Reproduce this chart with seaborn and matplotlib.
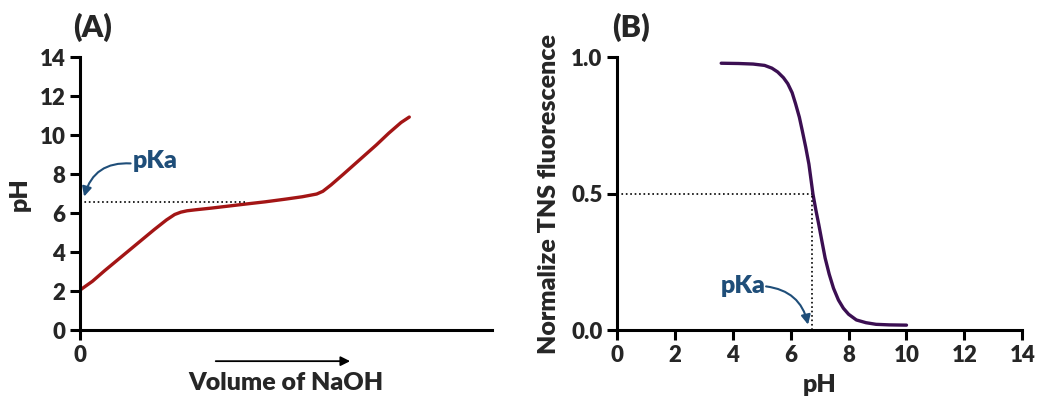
import matplotlib
matplotlib.use("Agg")
import matplotlib.pyplot as plt
import seaborn as sns
import pandas as pd

# Panel A: titration curve (arbitrary volume units)
vol_naoh = [0, 3, 6, 10, 14, 18, 21, 23, 24.5, 26, 28, 32, 36, 40, 45, 50, 54, 56, 57.5, 59, 61, 64, 68, 72, 75, 78, 80]
ph_titr = [2.05, 2.5, 3.05, 3.75, 4.45, 5.15, 5.65, 5.93, 6.05, 6.12, 6.17, 6.26, 6.36, 6.46, 6.58, 6.72, 6.84, 6.92, 6.98, 7.12, 7.45, 8.0, 8.75, 9.5, 10.1, 10.65, 10.93]
pka_a = 6.55
pka_a_vol = 40

# Panel B: TNS fluorescence vs pH
ph_tns = [3.6, 4.2, 4.7, 5.1, 5.35, 5.55, 5.75, 5.9, 6.05, 6.17, 6.3, 6.4, 6.52, 6.63, 6.77, 6.87,
          6.97, 7.08, 7.19, 7.33, 7.48, 7.65, 7.82, 8.0, 8.27, 8.6, 8.95, 9.4, 10.0]
fluor = [0.978, 0.977, 0.975, 0.970, 0.96, 0.946, 0.925, 0.903, 0.87, 0.829, 0.78, 0.731, 0.67, 0.608, 0.498, 0.44,
         0.387, 0.325, 0.264, 0.205, 0.153, 0.11, 0.080, 0.058, 0.037, 0.027, 0.021, 0.019, 0.018]
pka_b = 6.75

yticks_a = [0, 2, 4, 6, 8, 10, 12, 14]
xticks_b = [0, 2, 4, 6, 8, 10, 12, 14]
yticks_b = [0.0, 0.5, 1.0]

sns.set_style("ticks")
plt.rcParams['font.family'] = ['Lato', 'DejaVu Sans']
W = 'heavy'
plt.rcParams['font.weight'] = W
plt.rcParams['axes.labelweight'] = W

fig = plt.figure(figsize=(10.5, 4.03), dpi=100)
axA = fig.add_axes([0.0762, 0.181, 0.392, 0.677])
axB = fig.add_axes([0.5876, 0.181, 0.386, 0.677])

blue = '#1f4e79'

# ---- Panel A
dfA = pd.DataFrame({'vol': vol_naoh, 'ph': ph_titr})
sns.lineplot(data=dfA, x='vol', y='ph', ax=axA, color='#a31515', lw=2.4)
axA.plot([0, pka_a_vol], [pka_a, pka_a], ls=':', color='black', lw=1.2)
axA.set_xlim(0, 100)
axA.set_ylim(0, 14)
axA.set_xticks([0])
axA.set_yticks(yticks_a)
axA.set_xlabel('')
axA.text(0.5, -0.195, 'Volume of NaOH', transform=axA.transAxes, fontsize=18, fontweight=W,
         ha='center', va='center')
axA.set_ylabel('pH', fontsize=18, fontweight=W, labelpad=6)
axA.annotate('', xy=(0.323 + 0.34, -0.114), xytext=(0.323, -0.114), xycoords='axes fraction',
             textcoords='axes fraction', annotation_clip=False,
             arrowprops=dict(arrowstyle='-|>', color='black', lw=1.3, mutation_scale=14))
axA.text(12.8, 8.7, 'pKa', fontsize=18, fontweight=W, color=blue, va='center', ha='left')
axA.annotate('', xy=(1.0, 6.85), xytext=(12.3, 8.55),
             arrowprops=dict(arrowstyle='-|>', color=blue, lw=1.5, mutation_scale=14,
                             connectionstyle='arc3,rad=0.4', shrinkA=0, shrinkB=0))
axA.text(-0.017, 1.11, '(A)', transform=axA.transAxes, fontsize=22, fontweight=W, ha='left', va='center')

# ---- Panel B
dfB = pd.DataFrame({'ph': ph_tns, 'f': fluor})
sns.lineplot(data=dfB, x='ph', y='f', ax=axB, color='#3b0f52', lw=2.4)
axB.plot([0, pka_b], [0.5, 0.5], ls=':', color='black', lw=1.2)
axB.plot([pka_b, pka_b], [0, 0.5], ls=':', color='black', lw=1.2)
axB.set_xlim(0, 14)
axB.set_ylim(0, 1.0)
axB.set_xticks(xticks_b)
axB.set_yticks(yticks_b)
axB.set_yticklabels(['0.0', '0.5', '1.0'])
axB.set_xlabel('pH', fontsize=18, fontweight=W, labelpad=6)
axB.set_ylabel('Normalize TNS fluorescence', fontsize=18, fontweight=W, labelpad=8)
axB.text(4.35, 0.16, 'pKa', fontsize=18, fontweight=W, color=blue, va='center', ha='center')
axB.annotate('', xy=(6.6, 0.02), xytext=(5.15, 0.16),
             arrowprops=dict(arrowstyle='-|>', color=blue, lw=1.5, mutation_scale=14,
                             connectionstyle='arc3,rad=-0.35', shrinkA=0, shrinkB=0))
axB.text(-0.012, 1.11, '(B)', transform=axB.transAxes, fontsize=22, fontweight=W, ha='left', va='center')

for ax in (axA, axB):
    sns.despine(ax=ax)
    for s in ('left', 'bottom'):
        ax.spines[s].set_linewidth(2.2)
        ax.spines[s].set_color('black')
    ax.tick_params(width=2.2, length=7, labelsize=16, color='black', direction='out')
    for lab in ax.get_xticklabels() + ax.get_yticklabels():
        lab.set_fontweight(W)

fig.savefig('out.png', dpi=100)
